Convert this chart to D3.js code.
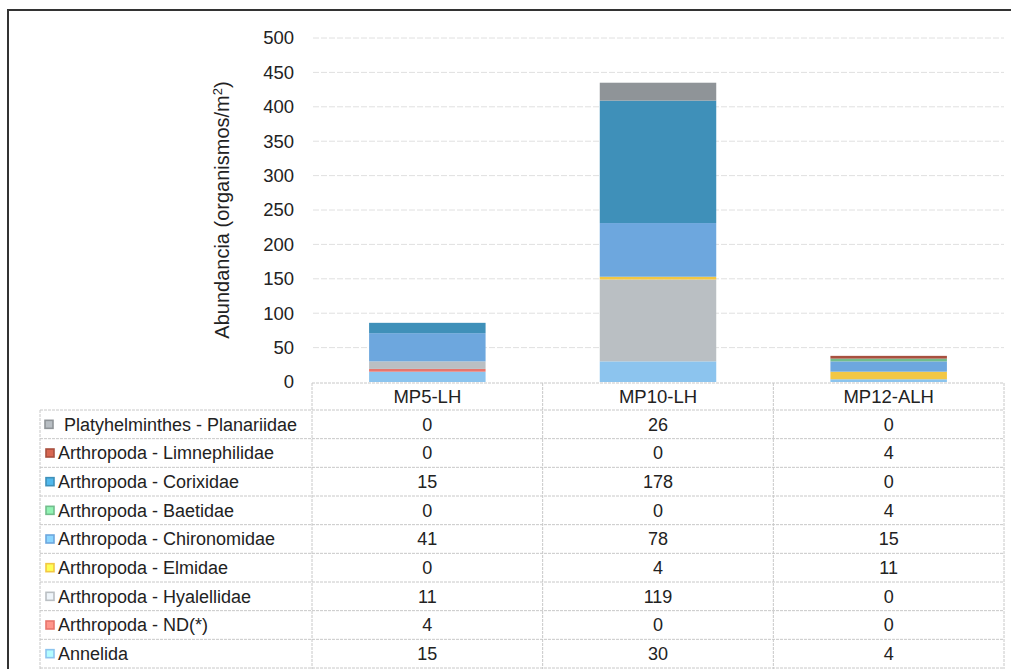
<!DOCTYPE html>
<html>
<head>
<meta charset="utf-8">
<script src="https://cdn.jsdelivr.net/npm/d3@7"></script>
<style>
  body { margin: 0; background: #fff; }
  svg { font-family: "Liberation Sans", Arial, sans-serif; }
</style>
</head>
<body>
<svg id="chart" width="1011" height="669"></svg>
<script>
const sites = ["MP5-LH", "MP10-LH", "MP12-ALH"];

// table order, top to bottom (stack order is the reverse)
const taxa = [
    "Platyhelminthes - Planariidae",
    "Arthropoda - Limnephilidae",
    "Arthropoda - Corixidae",
    "Arthropoda - Baetidae",
    "Arthropoda - Chironomidae",
    "Arthropoda - Elmidae",
    "Arthropoda - Hyalellidae",
    "Arthropoda - ND(*)",
    "Annelida"
];
const platyhelminthes = [0, 26, 0];
const limnephilidae = [0, 0, 4];
const corixidae = [15, 178, 0];
const baetidae = [0, 0, 4];
const chironomidae = [41, 78, 15];
const elmidae = [0, 4, 11];
const hyalellidae = [11, 119, 0];
const nd = [4, 0, 0];
const annelida = [15, 30, 4];
const seriesValues = [platyhelminthes, limnephilidae, corixidae, baetidae,
    chironomidae, elmidae, hyalellidae, nd, annelida];
const yTicks = [0, 50, 100, 150, 200, 250, 300, 350, 400, 450, 500];

const colors = ["#8f9498", "#a8503f", "#3f90b9", "#72bd8c", "#6da7de",
    "#f2c744", "#babfc3", "#e8756c", "#8cc4ee"];

const svg = d3.select("#chart");

const x = d3.scaleBand().domain(sites).range([312, 1004]);
const y = d3.scaleLinear().domain([0, 500]).range([382, 38]);
const rowY = d3.scaleBand().domain(taxa).range([410, 668]);

// outer frame
svg.append("path")
    .attr("d", "M8,669 V10 H1011")
    .attr("fill", "none")
    .attr("stroke", "#333")
    .attr("stroke-width", 2);

// gridlines
svg.append("g")
    .selectAll("line")
    .data(yTicks.slice(1))
    .join("line")
    .attr("x1", 313).attr("x2", 1004)
    .attr("y1", d => y(d)).attr("y2", d => y(d))
    .attr("stroke", "#e0e0e0")
    .attr("stroke-dasharray", "6,2");

// y axis labels
svg.append("g")
    .selectAll("text")
    .data(yTicks)
    .join("text")
    .attr("x", 294)
    .attr("y", d => y(d))
    .attr("dy", "0.35em")
    .attr("text-anchor", "end")
    .attr("font-size", 18.5)
    .attr("fill", "#222")
    .text(d => d);

const title = svg.append("text")
    .attr("transform", "translate(229,210) rotate(-90)")
    .attr("text-anchor", "middle")
    .attr("font-size", 20)
    .attr("fill", "#222");
title.append("tspan").text("Abundancia  (organismos/m");
title.append("tspan").attr("dy", -7).attr("font-size", 13).text("2");
title.append("tspan").attr("dy", 7).text(")");

// stacked bars
const table = sites.map((s, i) => {
    const row = {site: s};
    taxa.forEach((t, j) => row[t] = seriesValues[j][i]);
    return row;
});
const stack = d3.stack().keys(taxa.slice().reverse())(table);
const barW = x.bandwidth() * 0.505;

svg.append("g")
    .selectAll("g")
    .data(stack)
    .join("g")
    .attr("fill", d => colors[taxa.indexOf(d.key)])
    .selectAll("rect")
    .data(d => d)
    .join("rect")
    .attr("x", d => x(d.data.site) + (x.bandwidth() - barW) / 2)
    .attr("y", d => y(d[1]))
    .attr("width", barW)
    .attr("height", d => y(d[0]) - y(d[1]));

// data table
const grid = svg.append("g")
    .attr("stroke", "#c8c8c8")
    .attr("stroke-dasharray", "3,1");

grid.append("line")
    .attr("x1", 312).attr("x2", 1004)
    .attr("y1", 383).attr("y2", 383);
taxa.forEach(t => {
    grid.append("line")
        .attr("x1", 40).attr("x2", 1004)
        .attr("y1", rowY(t)).attr("y2", rowY(t));
});
grid.append("line")
    .attr("x1", 40).attr("x2", 1004)
    .attr("y1", 668).attr("y2", 668);
grid.append("line")
    .attr("x1", 40).attr("x2", 40)
    .attr("y1", 410).attr("y2", 669);
sites.forEach(s => {
    grid.append("line")
        .attr("x1", x(s)).attr("x2", x(s))
        .attr("y1", 383).attr("y2", 669);
});
grid.append("line")
    .attr("x1", 1004).attr("x2", 1004)
    .attr("y1", 383).attr("y2", 669);

// column headers
svg.append("g")
    .selectAll("text")
    .data(sites)
    .join("text")
    .attr("x", d => x(d) + x.bandwidth() / 2)
    .attr("y", 397)
    .attr("dy", "0.35em")
    .attr("text-anchor", "middle")
    .attr("font-size", 18.5)
    .attr("fill", "#222")
    .text(d => d);

// legend keys and names
const rows = svg.append("g")
    .selectAll("g")
    .data(taxa)
    .join("g")
    .attr("transform", d => `translate(0,${rowY(d) + rowY.bandwidth() / 2})`);

rows.append("rect")
    .attr("x", (d, i) => i === 0 ? 45 : 46)
    .attr("y", -4)
    .attr("width", 8)
    .attr("height", 8)
    .attr("fill", (d, i) => d3.color(colors[i]).brighter(0.7))
    .attr("stroke", (d, i) => colors[i])
    .attr("stroke-width", 1.6);

rows.append("text")
    .attr("x", (d, i) => i === 0 ? 64 : 58)
    .attr("dy", "0.35em")
    .attr("font-size", 18)
    .attr("fill", "#222")
    .text(d => d);

rows.each(function(t, j) {
    d3.select(this).selectAll(".val")
        .data(seriesValues[j])
        .join("text")
        .attr("class", "val")
        .attr("x", (d, i) => x(sites[i]) + x.bandwidth() / 2)
        .attr("dy", "0.35em")
        .attr("text-anchor", "middle")
        .attr("font-size", 18)
        .attr("fill", "#222")
        .text(d => d);
});
</script>
</body>
</html>
